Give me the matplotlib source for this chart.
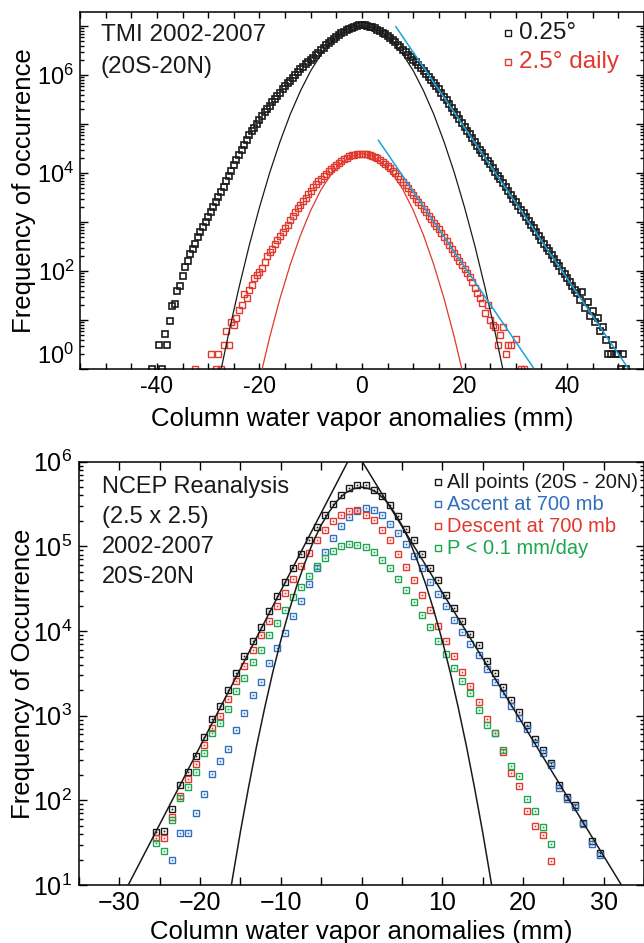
import numpy as np
import matplotlib
matplotlib.use("Agg")
import matplotlib.pyplot as plt
from matplotlib.ticker import FixedLocator, MultipleLocator, LogLocator, FuncFormatter, NullFormatter

plt.rcParams['font.family'] = ['Liberation Sans', 'DejaVu Sans']
plt.rcParams['mathtext.fontset'] = 'custom'
plt.rcParams['mathtext.rm'] = 'Liberation Sans'
plt.rcParams['mathtext.it'] = 'Liberation Sans:italic'
plt.rcParams['mathtext.bf'] = 'Liberation Sans:bold'
plt.rcParams['axes.unicode_minus'] = False

# ---------------- top panel: TMI 0.25 deg and 2.5 deg daily (log10 counts, 0.5 mm bins)
tmi_bins = np.arange(-41.0, 51.75, 0.5)
tmi_025_log = [
    0.00, np.nan, np.nan, 0.48, 0.00, 0.71, 0.48, 0.97, 1.28, 1.33,
    1.60, 1.69, 1.90, 2.09, 2.20, 2.34, 2.45, 2.56, 2.70, 2.80,
    2.90, 3.00, 3.10, 3.21, 3.30, 3.40, 3.51, 3.61, 3.72, 3.83,
    3.94, 4.05, 4.16, 4.27, 4.37, 4.47, 4.57, 4.67, 4.77, 4.85,
    4.93, 5.01, 5.09, 5.17, 5.24, 5.31, 5.38, 5.45, 5.52, 5.58,
    5.64, 5.71, 5.77, 5.83, 5.89, 5.95, 6.01, 6.06, 6.12, 6.17,
    6.22, 6.27, 6.31, 6.36, 6.41, 6.46, 6.51, 6.56, 6.61, 6.66,
    6.70, 6.74, 6.78, 6.82, 6.86, 6.89, 6.92, 6.95, 6.97, 6.99,
    7.01, 7.02, 7.02, 7.02, 7.01, 6.99, 6.98, 6.96, 6.93, 6.90,
    6.87, 6.84, 6.80, 6.76, 6.72, 6.67, 6.62, 6.57, 6.52, 6.47,
    6.42, 6.37, 6.31, 6.26, 6.20, 6.14, 6.08, 6.02, 5.96, 5.90,
    5.84, 5.78, 5.72, 5.64, 5.56, 5.49, 5.41, 5.33, 5.25, 5.18,
    5.10, 5.02, 4.95, 4.87, 4.79, 4.72, 4.64, 4.56, 4.48, 4.41,
    4.33, 4.25, 4.18, 4.10, 4.02, 3.94, 3.87, 3.79, 3.71, 3.64,
    3.56, 3.48, 3.41, 3.33, 3.25, 3.18, 3.10, 3.02, 2.94, 2.87,
    2.79, 2.71, 2.64, 2.56, 2.48, 2.41, 2.33, 2.25, 2.17, 2.10,
    2.01, 1.93, 1.86, 1.77, 1.70, 1.61, 1.55, 1.40, 1.58, 1.25,
    1.37, 1.08, 1.18, 0.95, 1.04, 0.78, 0.85, 0.60, 0.30, 0.30,
    0.48, 0.30, 0.30, 0.00, 0.30, 0.00,
]
daily_bins = np.arange(-32.5, 31.75, 0.5)
daily_25_log = [
    0.00, np.nan, np.nan, np.nan, np.nan, np.nan, 0.30, np.nan, 0.00, 0.30,
    0.00, 0.48, 0.78, 0.48, 0.95, 0.90, 1.05, 1.20, 1.30, 1.53,
    1.45, 1.62, 1.72, 1.85, 1.92, 1.98, 2.06, 2.18, 2.30, 2.38,
    2.46, 2.55, 2.63, 2.71, 2.79, 2.87, 2.95, 3.04, 3.12, 3.20,
    3.28, 3.35, 3.43, 3.50, 3.57, 3.64, 3.71, 3.77, 3.83, 3.89,
    3.94, 3.99, 4.04, 4.09, 4.13, 4.17, 4.21, 4.25, 4.28, 4.31,
    4.34, 4.36, 4.38, 4.39, 4.40, 4.40, 4.40, 4.39, 4.37, 4.35,
    4.33, 4.30, 4.27, 4.23, 4.19, 4.15, 4.10, 4.05, 4.00, 3.94,
    3.88, 3.82, 3.76, 3.69, 3.62, 3.55, 3.48, 3.41, 3.34, 3.27,
    3.20, 3.13, 3.06, 2.99, 2.92, 2.85, 2.77, 2.69, 2.61, 2.53,
    2.45, 2.37, 2.29, 2.21, 2.12, 2.04, 1.97, 1.88, 1.78, 1.66,
    1.56, 1.44, 1.35, 1.14, 1.31, 1.00, 0.90, 0.86, 0.49, 0.69,
    0.86, 0.31, 0.49, 0.49, np.nan, 0.61, np.nan, 0.00, 0.00,
]
# gaussian fits (log10)
gauss_x = [-28, -26, -24, -22, -20, -18, -16, -14, -12, -10, -8, -6, -4, -2, 0,
           2, 4, 6, 8, 10, 12, 14, 16, 18, 20, 22, 24, 26, 28]
gauss_025_log = [-0.27, 0.73, 1.66, 2.52, 3.30, 4.01, 4.64, 5.20, 5.68, 6.09, 6.42, 6.69, 6.87, 6.98, 7.02,
                 6.98, 6.87, 6.69, 6.42, 6.09, 5.68, 5.20, 4.64, 4.01, 3.30, 2.52, 1.66, 0.73, -0.27]
gauss_daily_x = [-20, -18, -16, -14, -12, -10, -8, -6, -4, -2, 0, 2, 4, 6, 8, 10, 12, 14, 16, 18, 20]
gauss_daily_log = [-0.23, 0.65, 1.44, 2.13, 2.73, 3.24, 3.66, 3.98, 4.21, 4.35, 4.40,
                   4.35, 4.21, 3.98, 3.66, 3.24, 2.73, 2.13, 1.44, 0.65, -0.23]
# exponential tail fits (end points, log10)
tail_025_x = [6.6, 51.8]
tail_025_log = [6.99, 0.03]
tail_daily_x = [3.2, 33.4]
tail_daily_log = [4.67, 0.03]

# ---------------- bottom panel: NCEP reanalysis (log10 counts, 1 mm bins)
ncep_bins = np.arange(-25.5, 30.0, 1.0)
all_log = [1.63, 1.64, 1.90, 2.18, 2.33, 2.52, 2.75, 2.96, 3.12, 3.30,
           3.51, 3.70, 3.88, 4.05, 4.24, 4.41, 4.58, 4.75, 4.91, 5.08,
           5.23, 5.37, 5.50, 5.61, 5.69, 5.72, 5.72, 5.67, 5.59, 5.49,
           5.36, 5.21, 5.07, 4.91, 4.75, 4.60, 4.43, 4.27, 4.12, 3.96,
           3.83, 3.65, 3.50, 3.34, 3.19, 3.04, 2.89, 2.73, 2.60, 2.44,
           2.18, 2.04, 1.94, 1.73, 1.52, 1.38]
ascent_log = [np.nan, np.nan, 1.29, 1.61, 1.61, 1.85, 2.07, 2.31, 2.47, 2.61,
              2.83, 3.03, 3.24, 3.40, 3.62, 3.80, 3.98, 4.18, 4.36, 4.55,
              4.75, 4.93, 5.10, 5.24, 5.35, 5.42, 5.45, 5.43, 5.37, 5.27,
              5.16, 5.03, 4.89, 4.75, 4.58, 4.44, 4.30, 4.13, 3.99, 3.85,
              3.72, 3.55, 3.40, 3.26, 3.12, 2.97, 2.84, 2.68, 2.56, 2.42,
              2.14, 2.02, 1.92, 1.72, 1.49, 1.36]
descent_log = [1.55, 1.56, 1.80, 2.05, 2.25, 2.43, 2.65, 2.86, 3.00, 3.20,
               3.41, 3.59, 3.77, 3.95, 4.12, 4.30, 4.45, 4.61, 4.77, 4.92,
               5.08, 5.19, 5.30, 5.37, 5.42, 5.43, 5.37, 5.31, 5.19, 5.07,
               4.91, 4.76, 4.60, 4.42, 4.25, 4.06, 3.88, 3.70, 3.52, 3.35,
               3.16, 2.96, 2.80, 2.57, 2.32, 2.17, 1.87, 1.70, 1.59, 1.28,
               np.nan, np.nan, np.nan, np.nan, np.nan, np.nan]
dry_log = [1.50, 1.40, 1.77, 2.03, 2.16, 2.34, 2.56, 2.79, 2.91, 3.08,
           3.29, 3.44, 3.63, 3.78, 3.95, 4.10, 4.25, 4.40, 4.52, 4.65,
           4.77, 4.86, 4.95, 5.00, 5.03, 5.02, 4.99, 4.93, 4.84, 4.74,
           4.62, 4.48, 4.34, 4.19, 4.05, 3.88, 3.73, 3.56, 3.41, 3.27,
           3.07, 2.89, 2.80, 2.60, 2.41, 2.29, 2.01, 1.87, 1.68, 1.48,
           np.nan, np.nan, np.nan, np.nan, np.nan, np.nan]
ncep_gauss_x = [-17, -16, -15, -14, -13, -12, -11, -10, -9, -8, -7, -6, -5, -4, -3, -2, -1, 0,
                1, 2, 3, 4, 5, 6, 7, 8, 9, 10, 11, 12, 13, 14, 15, 16, 17]
ncep_gauss_log = [0.47, 1.07, 1.63, 2.15, 2.64, 3.09, 3.51, 3.89, 4.23, 4.54, 4.81, 5.05, 5.25, 5.41, 5.54, 5.63, 5.68, 5.70,
                  5.68, 5.63, 5.54, 5.41, 5.25, 5.05, 4.81, 4.54, 4.23, 3.89, 3.51, 3.09, 2.64, 2.15, 1.63, 1.07, 0.47]
ncep_left_x = [-28.9, -1.7]
ncep_left_log = [1.0, 6.0]
ncep_right_x = [0.1, 32.2]
ncep_right_log = [6.0, 1.0]

series_labels = ['All points (20S - 20N)', 'Ascent at 700 mb', 'Descent at 700 mb', 'P < 0.1 mm/day']

BLACK = '#1a1a1a'
RED = '#e0392e'
CYAN = '#1ba3dc'
BLUE = '#2f6fbf'
GREEN = '#1ca650'

fig = plt.figure(figsize=(6.44, 9.43), dpi=100)
ax1 = fig.add_axes([80 / 644, (943 - 369) / 943, 564 / 644, 357 / 943])
ax2 = fig.add_axes([79 / 644, (943 - 885) / 943, 565 / 644, 423.3 / 943])


def pow10(v):
    return 10.0 ** np.asarray(v, dtype=float)


# ---------------- top panel
ax1.plot(tmi_bins, pow10(tmi_025_log), ls='none', marker='s', ms=4.0, mfc='none',
         mec=BLACK, mew=1.2, zorder=2)
ax1.plot(daily_bins, pow10(daily_25_log), ls='none', marker='s', ms=3.8, mfc='none',
         mec=RED, mew=1.0, zorder=2)
ax1.plot(gauss_x, pow10(gauss_025_log), color=BLACK, lw=0.9, zorder=3)
ax1.plot(gauss_daily_x, pow10(gauss_daily_log), color=RED, lw=0.9, zorder=3)
ax1.plot(tail_025_x, pow10(tail_025_log), color=CYAN, lw=1.1, zorder=4)
ax1.plot(tail_daily_x, pow10(tail_daily_log), color=CYAN, lw=1.1, zorder=4)

ax1.set_yscale('log')
ax1.set_xlim(-55, 55)
ax1.set_ylim(1, 10 ** 7.29)
ax1.yaxis.set_major_locator(FixedLocator([10.0 ** k for k in range(0, 8)]))
ax1.yaxis.set_minor_locator(LogLocator(base=10, subs=np.arange(2, 10), numticks=20))
ax1.yaxis.set_minor_formatter(NullFormatter())
ax1.yaxis.set_major_formatter(FuncFormatter(
    lambda v, p: '$10^{%d}$' % round(np.log10(v)) if round(np.log10(v)) % 2 == 0 else ''))
ax1.xaxis.set_major_locator(MultipleLocator(20))
ax1.xaxis.set_minor_locator(MultipleLocator(5))
ax1.xaxis.set_major_formatter(FuncFormatter(lambda v, p: '%d' % v))
ax1.tick_params(which='both', direction='in', top=True, right=True, width=1.0)
ax1.tick_params(axis='y', which='major', length=6, pad=4, labelsize=17)
ax1.tick_params(axis='y', which='minor', length=3)
ax1.tick_params(axis='x', which='both', length=4.5, pad=4.5, labelsize=16.5)
ax1.set_xlabel('Column water vapor anomalies (mm)', fontsize=18.5, labelpad=6)
ax1.set_ylabel('Frequency of occurrence', fontsize=18.5)
ax1.yaxis.set_label_coords(-0.078, 0.5)

ax1.text(0.0365, 0.936, 'TMI 2002-2007', transform=ax1.transAxes, fontsize=17.5,
         ha='left', va='center', color=BLACK)
ax1.text(0.0365, 0.847, '(20S-20N)', transform=ax1.transAxes, fontsize=17.5,
         ha='left', va='center', color=BLACK)
ax1.plot([0.7596], [0.940], transform=ax1.transAxes, marker='s', ms=3.8, mfc='none',
         mec=BLACK, mew=1.0, ls='none')
ax1.plot([0.7596], [0.861], transform=ax1.transAxes, marker='s', ms=3.8, mfc='none',
         mec=RED, mew=1.0, ls='none')
ax1.text(0.779, 0.940, '0.25°', transform=ax1.transAxes, fontsize=17.5,
         ha='left', va='center', color=BLACK)
ax1.text(0.779, 0.861, '2.5° daily', transform=ax1.transAxes, fontsize=17.5,
         ha='left', va='center', color=RED)

# ---------------- bottom panel
colors = [BLACK, BLUE, RED, GREEN]
for vals, c in zip([all_log, ascent_log, descent_log, dry_log], colors):
    ax2.plot(ncep_bins, pow10(vals), ls='none', marker='s', ms=4.6, mfc='none',
             mec=c, mew=1.0, zorder=2)
    ax2.plot(ncep_bins, pow10(vals), ls='none', marker='s', ms=0.9, mfc=c,
             mec=c, mew=0.2, zorder=2)
ax2.plot(ncep_gauss_x, pow10(ncep_gauss_log), color=BLACK, lw=1.1, zorder=3)
ax2.plot(ncep_left_x, pow10(ncep_left_log), color=BLACK, lw=1.1, zorder=3)
ax2.plot(ncep_right_x, pow10(ncep_right_log), color=BLACK, lw=1.1, zorder=3)

ax2.set_yscale('log')
ax2.set_xlim(-35, 35)
ax2.set_ylim(10, 1e6)
ax2.yaxis.set_major_locator(FixedLocator([10.0 ** k for k in range(1, 7)]))
ax2.yaxis.set_minor_locator(LogLocator(base=10, subs=np.arange(2, 10), numticks=20))
ax2.yaxis.set_minor_formatter(NullFormatter())
ax2.yaxis.set_major_formatter(FuncFormatter(lambda v, p: '$10^{%d}$' % round(np.log10(v))))
ax2.xaxis.set_major_locator(MultipleLocator(10))
ax2.xaxis.set_minor_locator(MultipleLocator(5))
ax2.xaxis.set_major_formatter(FuncFormatter(lambda v, p: ('%d' % v).replace('-', '\u2212')))
ax2.tick_params(which='both', direction='in', top=True, right=True, width=1.0)
ax2.tick_params(axis='y', which='major', length=6, pad=5, labelsize=18)
ax2.tick_params(axis='y', which='minor', length=3)
ax2.tick_params(axis='x', which='both', length=6, pad=4, labelsize=18)
ax2.set_xlabel('Column water vapor anomalies (mm)', fontsize=18.5, labelpad=4)
ax2.set_ylabel('Frequency of Occurrence', fontsize=18.5)
ax2.yaxis.set_label_coords(-0.078, 0.5)

for i, line in enumerate(['NCEP Reanalysis', '(2.5 x 2.5)', '2002-2007', '20S-20N']):
    ax2.text(0.040, 0.940 - i * 0.0705, line, transform=ax2.transAxes, fontsize=17,
             ha='left', va='center', color=BLACK)
for i, (lab, c) in enumerate(zip(series_labels, colors)):
    y = 0.951 - i * 0.052
    ax2.plot([0.635], [y], transform=ax2.transAxes, marker='s', ms=4.6, mfc='none',
             mec=c, mew=1.0, ls='none')
    ax2.text(0.652, y, lab, transform=ax2.transAxes, fontsize=14.5,
             ha='left', va='center', color=c)

for ax in (ax1, ax2):
    for s in ax.spines.values():
        s.set_linewidth(1.1)

fig.canvas.draw()
ax1.yaxis.get_major_ticks()[0].label1.set_va('bottom')

fig.savefig('out.png', dpi=100)
